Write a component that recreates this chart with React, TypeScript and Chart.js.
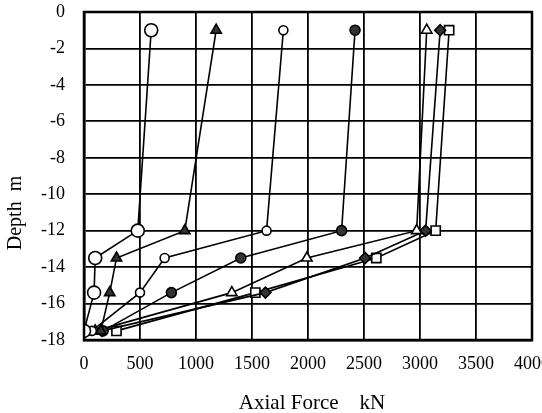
import React, { useEffect, useRef } from "react";
import { Chart, registerables } from "chart.js";

Chart.register(...registerables);

const depths = [-1, -12, -13.5, -15.4, -17.5];
const forceA = [600, 480, 100, 90, 0];
const forceB = [1180, 900, 290, 230, 150];
const forceC = [1780, 1630, 720, 500, 70];
const forceD = [2420, 2300, 1400, 780, 170];
const forceE = [3060, 2970, 1990, 1320, 100];
const forceF = [3180, 3050, 2510, 1620, 160];
const forceG = [3260, 3140, 2610, 1530, 290];

const xTitle = "Axial Force    kN";
const yTitle = "Depth  m";

const FONT = "'Liberation Serif', 'DejaVu Serif', serif";

function pts(xs: number[]) {
  return xs.map((x, i) => ({ x, y: depths[i] }));
}

const titlesPlugin = {
  id: "titles",
  afterDraw(chart: any) {
    const { ctx, chartArea } = chart;
    ctx.save();
    ctx.lineWidth = 2.5;
    ctx.strokeStyle = "#000";
    ctx.strokeRect(chartArea.left, chartArea.top, chartArea.right - chartArea.left, chartArea.bottom - chartArea.top);
    ctx.fillStyle = "#000";
    ctx.font = `21px ${FONT}`;
    ctx.textAlign = "center";
    ctx.textBaseline = "middle";
    ctx.fillText(xTitle, 312, 403);
    ctx.font = `20px ${FONT}`;
    ctx.translate(16, 213);
    ctx.rotate(-Math.PI / 2);
    ctx.fillText(yTitle, 0, 0);
    ctx.restore();
  },
};

export default function App() {
  const ref = useRef<HTMLCanvasElement>(null);
  useEffect(() => {
    document.body.style.margin = "0";
    const line = { borderColor: "#000", borderWidth: 1.6, showLine: true, pointBorderColor: "#000", pointBorderWidth: 1.6 };
    const chart = new Chart(ref.current!, {
      type: "scatter",
      data: {
        datasets: [
          { ...line, label: "A", data: pts(forceA), pointStyle: "circle", pointRadius: 6.5, pointBackgroundColor: "#fff" },
          { ...line, label: "B", data: pts(forceB), pointStyle: "triangle", pointRadius: 6, pointBackgroundColor: "#333" },
          { ...line, label: "C", data: pts(forceC), pointStyle: "circle", pointRadius: 4.5, pointBackgroundColor: "#fff" },
          { ...line, label: "D", data: pts(forceD), pointStyle: "circle", pointRadius: 5, pointBackgroundColor: "#333" },
          { ...line, label: "E", data: pts(forceE), pointStyle: "triangle", pointRadius: 6, pointBackgroundColor: "#fff" },
          { ...line, label: "F", data: pts(forceF), pointStyle: "rectRot", pointRadius: 5.5, pointBackgroundColor: "#333" },
          { ...line, label: "G", data: pts(forceG), pointStyle: "rect", pointRadius: 6.5, pointBackgroundColor: "#fff" },
        ],
      },
      options: {
        animation: false,
        responsive: false,
        layout: { padding: { left: 0, top: 12, right: 10, bottom: 0 } },
        plugins: { legend: { display: false }, tooltip: { enabled: false } },
        scales: {
          x: {
            type: "linear",
            min: 0,
            max: 4000,
            ticks: {
              stepSize: 500,
              padding: 13,
              color: "#000",
              font: { family: FONT, size: 18 },
              callback: (v: any) => String(v),
              maxRotation: 0,
            },
            grid: { color: "#000", lineWidth: 1.8, drawTicks: false },
            border: { color: "#000", width: 2.5 },
            afterFit: (s: any) => {
              s.height = 73;
              s.paddingLeft = 0;
              s.paddingRight = 0;
            },
          },
          y: {
            type: "linear",
            min: -18,
            max: 0,
            ticks: {
              stepSize: 2,
              padding: 19,
              color: "#000",
              font: { family: FONT, size: 18 },
              callback: (v: any) => String(v),
            },
            grid: { color: "#000", lineWidth: 1.8, drawTicks: false },
            border: { color: "#000", width: 2.5 },
            afterFit: (s: any) => {
              s.width = 84;
              s.paddingTop = 0;
              s.paddingBottom = 0;
            },
          },
        },
      },
      plugins: [titlesPlugin],
    });
    return () => chart.destroy();
  }, []);
  return <canvas ref={ref} width={542} height={413} style={{ display: "block" }} />;
}
